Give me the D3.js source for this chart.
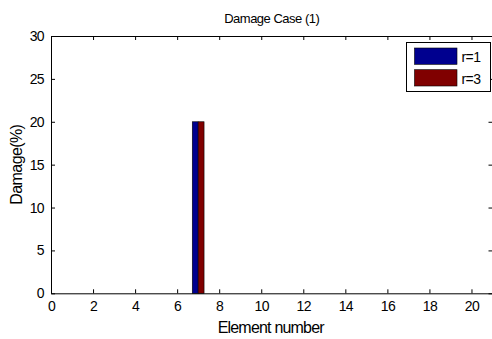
<!DOCTYPE html>
<html><head><meta charset="utf-8">
<script src="https://cdn.jsdelivr.net/npm/d3@7"></script>
<style>
html,body{margin:0;padding:0;background:#fff;overflow:hidden}
text{font-family:"Liberation Sans",Arial,sans-serif;fill:#000}
</style></head><body>
<svg id="c" width="492" height="339"></svg>
<script>
const elements = d3.range(1, 21);
const seriesNames = ["r=1", "r=3"];
const seriesR1 = [0,0,0,0,0,0,20,0,0,0,0,0,0,0,0,0,0,0,0,0];
const seriesR3 = [0,0,0,0,0,0,20,0,0,0,0,0,0,0,0,0,0,0,0,0];
const seriesColors = ["#00008f", "#800000"];
const xTicks = [0,2,4,6,8,10,12,14,16,18,20];
const yTicks = [0,5,10,15,20,25,30];
const title = "Damage Case (1)";
const xLabel = "Element number";
const yLabel = "Damage(%)";

const svg = d3.select("#c");
const L = 51, R = 492.5, T = 36, B = 293.3;
const x = d3.scaleLinear().domain([0, 21]).range([L, R]);
const y = d3.scaleLinear().domain([0, 30]).range([B, T]);
const groupW = 0.56;
const sub = d3.scaleBand().domain(seriesNames).range([-groupW/2, groupW/2]);

const data = [seriesR1, seriesR3];
data.forEach((vals, si) => {
  svg.append("g").selectAll("rect").data(elements.map((e,i)=>({e, v: vals[i]})).filter(d=>d.v>0))
    .join("rect")
    .attr("x", d => x(d.e + sub(seriesNames[si])))
    .attr("width", d => x(d.e + sub(seriesNames[si]) + sub.bandwidth()) - x(d.e + sub(seriesNames[si])))
    .attr("y", d => y(d.v))
    .attr("height", d => y(0) - y(d.v))
    .attr("fill", seriesColors[si])
    .attr("stroke", "#000").attr("stroke-width", 0.6);
});

const tickLen = 4;
const fmtAxis = g => {
  g.select(".domain").attr("stroke", "#000");
  g.selectAll(".tick line").attr("stroke", "#000");
  g.selectAll("text").style("font-size", "14px").attr("letter-spacing", "-0.6px");
};
// bottom
svg.append("g").attr("transform", `translate(0,${B})`)
  .call(d3.axisBottom(x).tickValues(xTicks).tickSizeInner(-tickLen).tickSizeOuter(0).tickPadding(8))
  .call(fmtAxis);
// top
svg.append("g").attr("transform", `translate(0,${T})`)
  .call(d3.axisTop(x).tickValues(xTicks).tickSizeInner(-tickLen).tickSizeOuter(0).tickFormat(""))
  .call(fmtAxis);
// left
svg.append("g").attr("transform", `translate(${L},0)`)
  .call(d3.axisLeft(y).tickValues(yTicks).tickSizeInner(-tickLen).tickSizeOuter(0).tickPadding(7))
  .call(fmtAxis);
// right
svg.append("g").attr("transform", `translate(${R},0)`)
  .call(d3.axisRight(y).tickValues(yTicks).tickSizeInner(-tickLen).tickSizeOuter(0).tickFormat(""))
  .call(fmtAxis);

svg.append("text").attr("x", (L+R)/2).attr("y", 23).attr("text-anchor","middle")
  .style("font-size","13px").attr("letter-spacing","-0.5px").text(title);
svg.append("text").attr("x", (L+R)/2 - 1).attr("y", 333).attr("text-anchor","middle")
  .style("font-size","16px").attr("letter-spacing","-0.8px").text(xLabel);
svg.append("text").attr("transform", `translate(22,${(T+B)/2}) rotate(-90)`).attr("text-anchor","middle")
  .style("font-size","16px").attr("letter-spacing","-0.6px").text(yLabel);

// legend
const lg = svg.append("g");
lg.append("rect").attr("x", 406.5).attr("y", 42.5).attr("width", 84).attr("height", 49)
  .attr("fill", "#fff").attr("stroke", "#000").attr("stroke-width", 1);
seriesNames.forEach((n, i) => {
  lg.append("rect").attr("x", 414.5).attr("y", 48 + i*21.7).attr("width", 42.5).attr("height", 16.3)
    .attr("fill", seriesColors[i]).attr("stroke", "#000").attr("stroke-width", 0.6);
  lg.append("text").attr("x", 461.5).attr("y", 62 + i*21.7).style("font-size","14px")
    .attr("letter-spacing","-0.6px").text(n);
});
</script></body></html>
